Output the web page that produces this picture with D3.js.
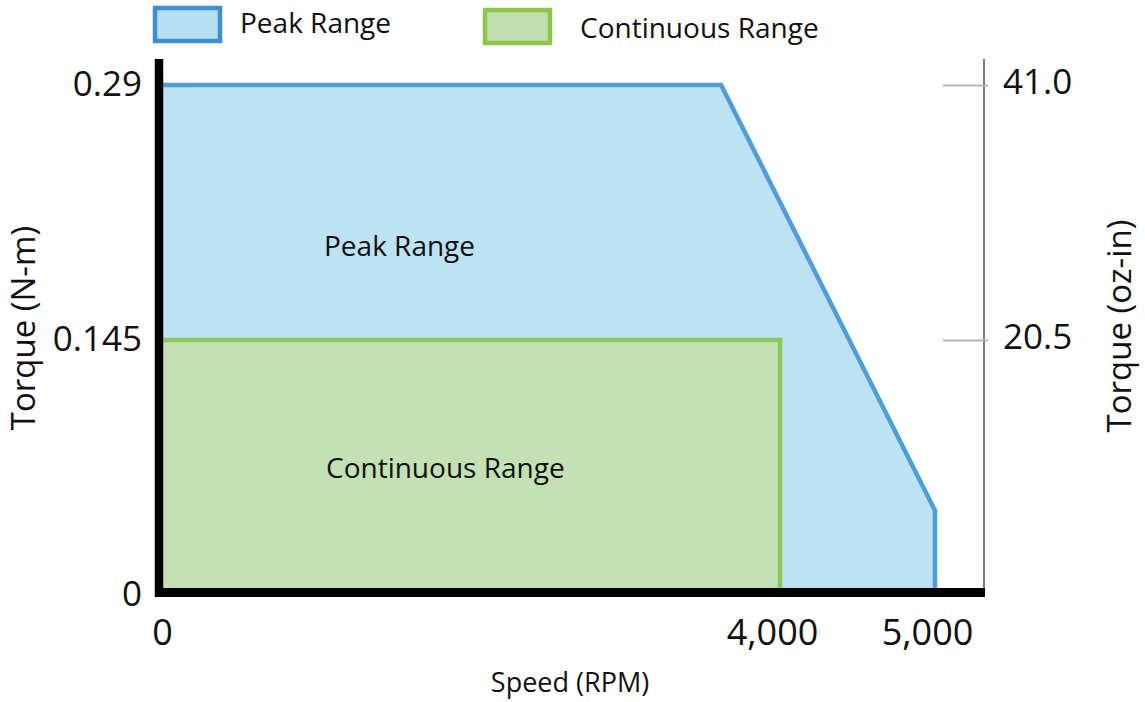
<!DOCTYPE html>
<html>
<head>
<meta charset="utf-8">
<script src="https://cdn.jsdelivr.net/npm/d3@7"></script>
<style>
  html, body { margin: 0; padding: 0; background: #fff; }
  svg { display: block; font-family: "Open Sans", sans-serif; }
</style>
</head>
<body>
<div id="chart"></div>
<script>
// envelope corners, speed in RPM and torque in N-m
const peakSpeed = [0, 3620, 5000, 5000];
const peakTorque = [0.29, 0.29, 0.048, 0];
const contSpeed = [0, 4000, 4000];
const contTorque = [0.145, 0.145, 0];

const xTicks = [0, 4000, 5000];
const yTicks = [0, 0.145, 0.29];
const yTicksOzIn = [20.5, 41.0];

const legendLabels = ['Peak Range', 'Continuous Range'];

const width = 1145, height = 702;

const svg = d3.select('#chart')
    .append('svg')
    .attr('width', width)
    .attr('height', height);

const x = d3.scaleLinear().domain([0, 5000]).range([160, 935]);
const y = d3.scaleLinear().domain([0, 0.29]).range([595, 85]);
const yOz = d3.scaleLinear().domain([0, 41.0]).range([595, 85]);

const blueFill = '#bde2f3', blueLine = '#4f9fd6';
const greenFill = '#c3e1b4', greenLine = '#8cc75a';

// areas: close each envelope back down to the axis origin
const peakPts = peakSpeed.map((s, i) => [s, peakTorque[i]]);
const contPts = contSpeed.map((s, i) => [s, contTorque[i]]);

const line = d3.line().x(d => x(d[0])).y(d => y(d[1]));

svg.append('path')
    .attr('d', line([[0, 0]].concat(peakPts)) + 'Z')
    .attr('fill', blueFill);
svg.append('path')
    .attr('d', line(peakPts))
    .attr('fill', 'none')
    .attr('stroke', blueLine)
    .attr('stroke-width', 4.5)
    .attr('stroke-linejoin', 'miter');

svg.append('path')
    .attr('d', line([[0, 0]].concat(contPts)) + 'Z')
    .attr('fill', greenFill);
svg.append('path')
    .attr('d', line(contPts))
    .attr('fill', 'none')
    .attr('stroke', greenLine)
    .attr('stroke-width', 4.5);

// right axis (oz-in), thin gray
svg.append('line')
    .attr('x1', 984).attr('x2', 984)
    .attr('y1', 59).attr('y2', 592)
    .attr('stroke', '#7a7a7a')
    .attr('stroke-width', 2);

const rightAxis = d3.axisRight(yOz)
    .tickValues(yTicksOzIn)
    .tickSize(0)
    .tickPadding(19)
    .tickFormat(d3.format('.1f'));

const gRight = svg.append('g')
    .attr('transform', 'translate(984,0)')
    .call(rightAxis);
gRight.select('.domain').remove();
gRight.selectAll('.tick line').remove();
gRight.selectAll('.tick')
    .append('line')
    .attr('x1', -41).attr('x2', 4)
    .attr('stroke', '#b5b5b5')
    .attr('stroke-width', 2);
gRight.selectAll('.tick text')
    .attr('font-family', '"Open Sans", sans-serif')
    .attr('font-size', 35)
    .attr('fill', '#111')
    .attr('dy', '0.23em');

// left axis (N-m)
const leftAxis = d3.axisLeft(y)
    .tickValues(yTicks)
    .tickSize(0)
    .tickPadding(17)
    .tickFormat(d => String(d));

const gLeft = svg.append('g')
    .attr('transform', 'translate(159,0)')
    .call(leftAxis);
gLeft.select('.domain').remove();
gLeft.selectAll('.tick text')
    .attr('font-family', '"Open Sans", sans-serif')
    .attr('font-size', 35)
    .attr('fill', '#111')
    .attr('dy', '0.29em');

// bottom axis
const bottomAxis = d3.axisBottom(x)
    .tickValues(xTicks)
    .tickSize(0)
    .tickPadding(27)
    .tickFormat(d3.format(','));

const gBottom = svg.append('g')
    .attr('transform', 'translate(0,592)')
    .call(bottomAxis);
gBottom.select('.domain').remove();
gBottom.selectAll('.tick text')
    .attr('font-family', '"Open Sans", sans-serif')
    .attr('font-size', 36)
    .attr('fill', '#111')
    .attr('dx', d => d === 0 ? 2 : -8);

// heavy black axis lines on top of the fills
svg.append('line')
    .attr('x1', 159).attr('x2', 159)
    .attr('y1', 59).attr('y2', 597)
    .attr('stroke', '#000')
    .attr('stroke-width', 8.5);
svg.append('line')
    .attr('x1', 155).attr('x2', 985)
    .attr('y1', 592.5).attr('y2', 592.5)
    .attr('stroke', '#000')
    .attr('stroke-width', 9);

// axis titles
svg.append('text')
    .attr('transform', 'translate(35,328) rotate(-90)')
    .attr('text-anchor', 'middle')
    .attr('font-size', 33)
    .attr('fill', '#111')
    .text('Torque (N-m)');

svg.append('text')
    .attr('transform', 'translate(1131,326) rotate(-90)')
    .attr('text-anchor', 'middle')
    .attr('font-size', 33)
    .attr('fill', '#111')
    .text('Torque (oz-in)');

svg.append('text')
    .attr('x', 570).attr('y', 692)
    .attr('text-anchor', 'middle')
    .attr('font-size', 27)
    .attr('fill', '#111')
    .text('Speed (RPM)');

// region labels
svg.append('text')
    .attr('x', 324).attr('y', 256)
    .attr('font-size', 28)
    .attr('fill', '#111')
    .text(legendLabels[0]);

svg.append('text')
    .attr('x', 326).attr('y', 478)
    .attr('font-size', 28)
    .attr('fill', '#111')
    .text(legendLabels[1]);

// legend
const legendItems = [
    {label: legendLabels[0], fill: '#b7dff2', stroke: '#3d8fcd', bx: 155, by: 8, tx: 240, ty: 33},
    {label: legendLabels[1], fill: '#bfdfae', stroke: '#8cc650', bx: 485, by: 10, tx: 580, ty: 38}
];

const legend = svg.append('g');
legendItems.forEach(d => {
    legend.append('rect')
        .attr('x', d.bx).attr('y', d.by)
        .attr('width', 65).attr('height', 33)
        .attr('fill', d.fill)
        .attr('stroke', d.stroke)
        .attr('stroke-width', 4.5);
    legend.append('text')
        .attr('x', d.tx).attr('y', d.ty)
        .attr('font-size', 28)
        .attr('fill', '#111')
        .text(d.label);
});
</script>
</body>
</html>
